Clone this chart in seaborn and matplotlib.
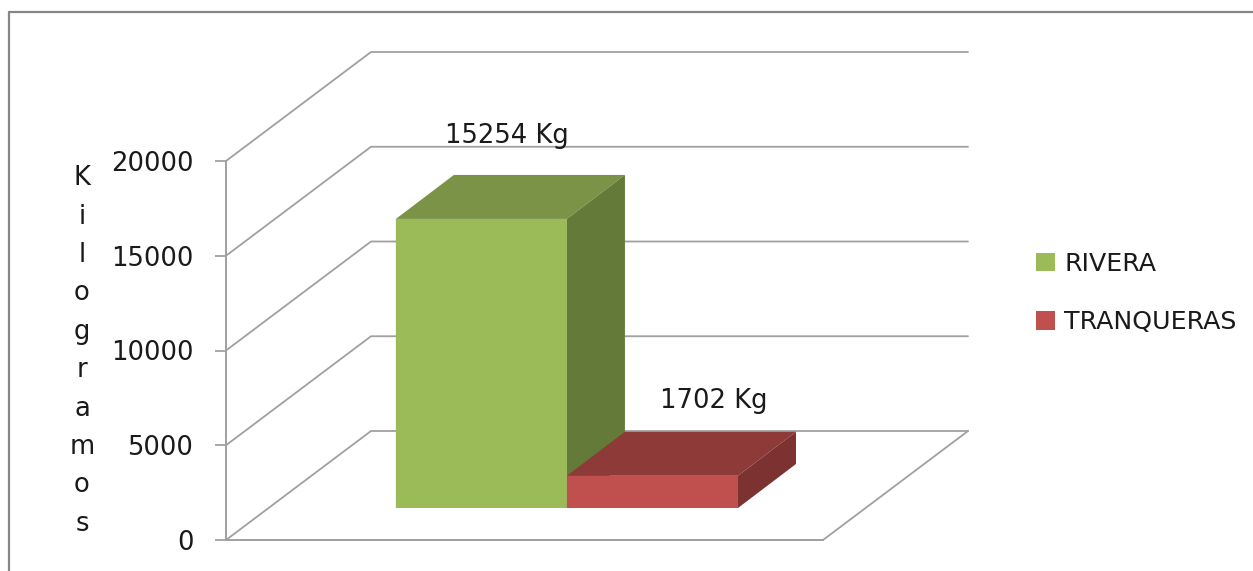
import pandas as pd
import matplotlib.pyplot as plt
import seaborn as sns
from matplotlib.lines import Line2D
from matplotlib.patches import Polygon

# Values
regions = ['RIVERA', 'TRANQUERAS']
kilos = [15254, 1702]
value_labels = ['15254 Kg', '1702 Kg']
y_ticks = [0, 5000, 10000, 15000, 20000]
y_title = 'Kilogramos'

front_colors = ['#9BBB59', '#C0504D']
top_colors = ['#7A9346', '#8E3A38']
side_colors = ['#637A38', '#7C3230']
grid_color = '#A0A0A0'
text_color = '#1A1A1A'

W, H = 1253, 571
FONT = 18.6

sns.set_style('white')
plt.rcParams['font.family'] = ['DejaVu Sans']

data = pd.DataFrame({'group': [''] * len(regions), 'region': regions, 'kilos': kilos})

fig = plt.figure(figsize=(W / 100, H / 100), dpi=100)
ax = fig.add_axes([226 / W, (H - 540) / H, 597 / W, 379 / H])

sns.barplot(data=data, x='group', y='kilos', hue='region', hue_order=regions,
            palette=front_colors, width=0.8, saturation=1, linewidth=0, ax=ax)

ax.set_xlim(-0.699, 0.697)
ax.set_ylim(0, 20000)
xmin, xmax = ax.get_xlim()

# size of one pixel in data units, the fake 3D is built from pixel depths
px_x = (xmax - xmin) / 597
px_y = 20000 / 379

# walls and floor
wall_dx, wall_dy = 145 * px_x, 109 * px_y
grid_kw = dict(color=grid_color, lw=1.3, clip_on=False, zorder=1)
for t in y_ticks:
    ax.plot([xmin, xmin + wall_dx, xmax + wall_dx], [t, t + wall_dy, t + wall_dy], **grid_kw)
ax.plot([xmax, xmax + wall_dx], [0, wall_dy], **grid_kw)

# bars stand inside the floor, add their top and side faces
shift_x, shift_y = 42 * px_x, 32 * px_y
depth_x, depth_y = 58 * px_x, 44 * px_y
label_offsets = [(25.5, 83), (61, 75)]
for i, bar in enumerate(ax.patches[:len(regions)]):
    bar.set_x(bar.get_x() + shift_x)
    bar.set_y(shift_y)
    bar.set_clip_on(False)
    bar.set_snap(False)
    bar.set_zorder(3 + i)
    x0, x1 = bar.get_x(), bar.get_x() + bar.get_width()
    y0, y1 = bar.get_y(), bar.get_y() + bar.get_height()
    top = [(x0, y1), (x1, y1), (x1 + depth_x, y1 + depth_y), (x0 + depth_x, y1 + depth_y)]
    side = [(x1, y0), (x1 + depth_x, y0 + depth_y), (x1 + depth_x, y1 + depth_y), (x1, y1)]
    ax.add_patch(Polygon(top, closed=True, fc=top_colors[i], ec='none', clip_on=False, zorder=3 + i))
    ax.add_patch(Polygon(side, closed=True, fc=side_colors[i], ec='none', clip_on=False, zorder=3 + i))
    ax.annotate(value_labels[i], xy=((x0 + x1) / 2, y1), xytext=label_offsets[i],
                textcoords='offset pixels', ha='center', va='center',
                fontsize=FONT, color=text_color, annotation_clip=False, zorder=6)

ax.set_yticks(y_ticks)
ax.set_xticks([])
ax.set_xlabel('')
ax.tick_params(axis='y', left=True, length=8, width=1.3, color=grid_color, pad=15.5,
               labelsize=FONT, labelcolor=text_color)
sns.despine(ax=ax, top=True, right=True)
for side_name in ['left', 'bottom']:
    ax.spines[side_name].set_color(grid_color)
    ax.spines[side_name].set_linewidth(1.4)
ax.patch.set_visible(False)

# letters stacked one above the other
ax.set_ylabel('\n'.join(y_title), rotation=0, ha='center', va='center', fontsize=FONT,
              color=text_color, linespacing=1.62)
ax.yaxis.set_label_coords((82 - 226) / 597, (540 - 351) / 379)

handles, labels = ax.get_legend_handles_labels()
ax.legend(handles, labels, loc='center left', bbox_to_anchor=(1036 / W, (H - 293) / H),
          bbox_transform=fig.transFigure, frameon=False, fontsize=18.2, handlelength=0.76,
          handleheight=0.76, handletextpad=0.36, labelspacing=1.37, labelcolor=text_color,
          borderpad=0, borderaxespad=0)

# outer chart frame, runs off the picture to the right and below
frame = dict(color='#868686', lw=1.6)
fig.add_artist(Line2D([9 / W, 9 / W], [0, (H - 12) / H], **frame))
fig.add_artist(Line2D([9 / W, 1], [(H - 12) / H, (H - 12) / H], **frame))

fig.savefig('out.png', dpi=100)
